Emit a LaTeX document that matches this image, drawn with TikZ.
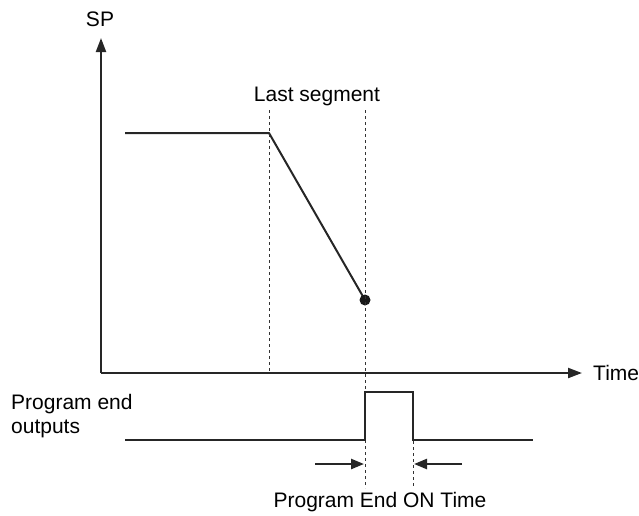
\documentclass[tikz,border=0pt]{standalone}
\usepackage{fontspec}
\setmainfont{Liberation Sans}
\usetikzlibrary{arrows.meta}
\begin{document}
\begin{tikzpicture}[x=1pt,y=-1pt,
  lbl/.style={inner sep=0pt,font=\fontsize{21}{25}\selectfont},
  solidline/.style={line width=2pt,black!85},
  guide/.style={line width=1pt,dash pattern=on 3pt off 3pt,black!80},
  axisarrow/.style={line width=2.2pt,black!85,-{Triangle[length=14pt,width=10pt]}},
  markarrow/.style={line width=2.4pt,black!85,-{Triangle[length=13pt,width=10pt]}}]
\useasboundingbox (0,0) rectangle (639,515);
% axes
\coordinate (o) at (101,373);
\coordinate (ytop) at (101,38);
\coordinate (xend) at (582,373);
\draw[axisarrow] (o) -- (ytop);
\draw[axisarrow] (o) -- (xend);
\node[lbl] (sp) at (100,19) {SP};
\node[lbl,anchor=west] (time) at (593,373) {Time};
% SP profile
\coordinate (p0) at (125,133);
\coordinate (p1) at (269,133);
\coordinate (p2) at (365,300);
\draw[solidline,line join=round] (p0) -- (p1) -- (p2);
\fill[black!90] (p2) circle (5.5pt);
% guide lines
\coordinate (g1t) at (269,110);
\coordinate (g1b) at (269,372);
\coordinate (g2t) at (365,110);
\coordinate (g2b) at (365,488);
\coordinate (g3t) at (413,441);
\coordinate (g3b) at (413,488);
\draw[guide] (g1t) -- (g1b);
\draw[guide] (g2t) -- (g2b);
\draw[guide] (g3t) -- (g3b);
\node[lbl] (last) at (317,96) {Last segment};
% pulse
\coordinate (q0) at (125,440);
\coordinate (q1) at (365,440);
\coordinate (q2) at (365,392);
\coordinate (q3) at (413,392);
\coordinate (q4) at (413,440);
\coordinate (q5) at (533,440);
\draw[solidline] (q0) -- (q1) -- (q2) -- (q3) -- (q4) -- (q5);
\node[lbl,anchor=west,align=left] (peo) at (11,416) {Program end\\[-1pt]outputs};
% ON time arrows
\coordinate (a1s) at (315,464);
\coordinate (a1e) at (364,464);
\coordinate (a2s) at (462,464);
\coordinate (a2e) at (414,464);
\draw[markarrow] (a1s) -- (a1e);
\draw[markarrow] (a2s) -- (a2e);
\node[lbl] (ontime) at (380,502) {Program End ON Time};
\end{tikzpicture}
\end{document}
